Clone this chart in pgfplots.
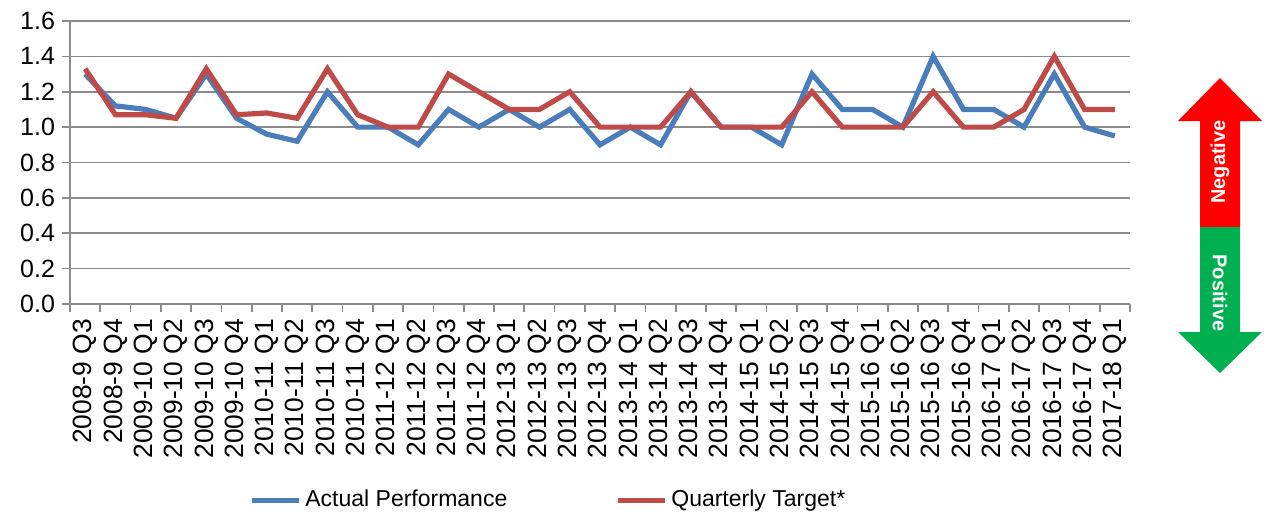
\documentclass[border=0pt]{standalone}
\usepackage{fontspec}
\setmainfont{Liberation Sans}
\usepackage{pgfplots}
\usepackage{pgfplotstable}
\pgfplotsset{compat=1.18}
\definecolor{blueline}{HTML}{4A7EBB}
\definecolor{redline}{HTML}{BE4B48}
\definecolor{gridgray}{HTML}{8C8C8C}
\definecolor{negred}{HTML}{FF0000}
\definecolor{posgreen}{HTML}{00B050}
\pgfplotstableread{
x actual target
0 1.30 1.33
1 1.12 1.07
2 1.10 1.07
3 1.05 1.05
4 1.30 1.33
5 1.05 1.07
6 0.96 1.08
7 0.92 1.05
8 1.20 1.33
9 1.00 1.07
10 1.00 1.00
11 0.90 1.00
12 1.10 1.30
13 1.00 1.20
14 1.10 1.10
15 1.00 1.10
16 1.10 1.20
17 0.90 1.00
18 1.00 1.00
19 0.90 1.00
20 1.20 1.20
21 1.00 1.00
22 1.00 1.00
23 0.90 1.00
24 1.30 1.20
25 1.10 1.00
26 1.10 1.00
27 1.00 1.00
28 1.40 1.20
29 1.10 1.00
30 1.10 1.00
31 1.00 1.10
32 1.30 1.40
33 1.00 1.10
34 0.95 1.10
}\datatable
\begin{document}
\begin{tikzpicture}
\useasboundingbox (-35pt,-105.5pt) rectangle (599.5pt,152pt);
\begin{axis}[
  at={(0,0)}, anchor=south west,
  width=530pt, height=141.5pt, scale only axis,
  xmin=-0.5, xmax=34.5, ymin=0, ymax=1.6,
  axis x line=bottom, axis y line=left,
  axis line style={-, draw=gridgray, line width=0.8pt},
  ytick={0,0.2,...,1.6},
  yticklabel style={/pgf/number format/fixed, /pgf/number format/precision=1, /pgf/number format/fixed zerofill},
  /pgf/number format/assume math mode=true,
  ymajorgrids, major grid style={draw=gridgray, line width=0.8pt},
  xtick={0,...,34},
  xticklabels={2008-9 Q3,2008-9 Q4,2009-10 Q1,2009-10 Q2,2009-10 Q3,2009-10 Q4,2010-11 Q1,2010-11 Q2,2010-11 Q3,2010-11 Q4,2011-12 Q1,2011-12 Q2,2011-12 Q3,2011-12 Q4,2012-13 Q1,2012-13 Q2,2012-13 Q3,2012-13 Q4,2013-14 Q1,2013-14 Q2,2013-14 Q3,2013-14 Q4,2014-15 Q1,2014-15 Q2,2014-15 Q3,2014-15 Q4,2015-16 Q1,2015-16 Q2,2015-16 Q3,2015-16 Q4,2016-17 Q1,2016-17 Q2,2016-17 Q3,2016-17 Q4,2017-18 Q1},
  major x tick style={draw=none},
  minor xtick={-0.5,0.5,...,34.5},
  minor x tick style={draw=gridgray, line width=0.8pt},
  minor tick length=4pt,
  major y tick style={draw=gridgray, line width=0.8pt},
  major tick length=4pt,
  tick align=outside,
  xticklabel style={rotate=90, anchor=east, font=\fontsize{13.2}{15}\selectfont},
  yticklabel style={font=\fontsize{12.5}{15}\selectfont},
  legend style={at={(0.1632,-0.6926)}, anchor=west, draw=none, fill=none,
    font=\fontsize{11.5}{14}\selectfont, legend columns=2,
    /tikz/every even column/.append style={column sep=52pt}},
  legend image code/.code={\draw[#1, line width=2.5pt] (0pt,0pt) -- (23.5pt,0pt);},
]
\addplot[blueline, line width=2.6pt] table[x=x, y=actual] {\datatable};
\addlegendentry{Actual Performance}
\addplot[redline, line width=2.6pt] table[x=x, y=target] {\datatable};
\addlegendentry{Quarterly Target*}
\end{axis}
\fill[negred] (554pt,91.5pt) -- (575pt,113pt) -- (596pt,91.5pt) -- (585pt,91.5pt) -- (585pt,38.5pt) -- (565pt,38.5pt) -- (565pt,91.5pt) -- cycle;
\fill[posgreen] (565pt,38.5pt) -- (585pt,38.5pt) -- (585pt,-14pt) -- (596pt,-14pt) -- (575pt,-34.5pt) -- (554pt,-14pt) -- (565pt,-14pt) -- cycle;
\node[rotate=90, text=white, font=\bfseries\fontsize{10}{12}\selectfont] at (575pt,71pt) {Negative};
\node[rotate=-90, text=white, font=\bfseries\fontsize{10}{12}\selectfont] at (575pt,5.5pt) {Positive};
\end{tikzpicture}
\end{document}
